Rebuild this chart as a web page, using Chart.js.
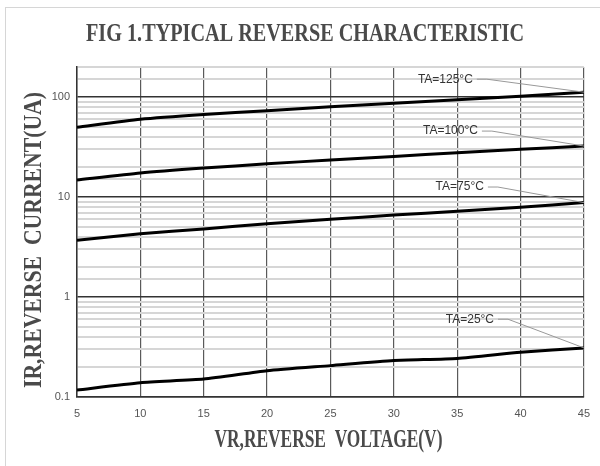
<!DOCTYPE html>
<html><head><meta charset="utf-8">
<script src="https://cdn.jsdelivr.net/npm/chart.js@4/dist/chart.umd.min.js"></script>
<style>
html,body{margin:0;padding:0;background:#fff;}
#wrap{position:relative;width:600px;height:466px;overflow:hidden;background:#fff;}
#frame{position:absolute;left:5px;top:7px;width:700px;height:600px;border-left:1px solid #d6d6d6;border-top:1px solid #d6d6d6;}
canvas{position:absolute;left:0;top:0;}
</style></head><body>
<div id="wrap"><div id="frame"></div><canvas id="c" width="600" height="466"></canvas></div>
<script>
const chartTitle = 'FIG 1.TYPICAL REVERSE CHARACTERISTIC';
const xTitle = 'VR,REVERSE  VOLTAGE(V)';
const yTitle = 'IR,REVERSE  CURRENT(UA)';
const voltages = [5, 10, 15, 20, 25, 30, 35, 40, 45];
const seriesNames = ['TA=125°C', 'TA=100°C', 'TA=75°C', 'TA=25°C'];
const ir125 = [50, 60, 67, 73, 80, 87, 94, 102, 112];
const ir100 = [14.8, 17.4, 19.5, 21.5, 23.5, 25.5, 27.7, 30, 32.4];
const ir75 = [3.7, 4.3, 4.8, 5.4, 6.0, 6.6, 7.2, 7.9, 8.8];
const ir25 = [0.1175, 0.139, 0.151, 0.183, 0.206, 0.232, 0.243, 0.28, 0.31];
const labelX = [31.9, 32.3, 33.3, 34.1];
const labelY = [151, 45.7, 12.6, 0.60];
const yTickLabels = [0.1, 1, 10, 100];
const xTicks = [5, 10, 15, 20, 25, 30, 35, 40, 45];

const allSeries = [ir125, ir100, ir75, ir25];
const datasets = allSeries.map((vals, i) => ({
  label: seriesNames[i],
  data: voltages.map((v, j) => ({x: v, y: vals[j]})),
  borderColor: '#000',
  borderWidth: 3,
  pointRadius: 0,
  tension: 0.2,
  fill: false
}));

function isDecade(v) {
  const l = Math.log10(v);
  return Math.abs(l - Math.round(l)) < 1e-6;
}

function drawCondensed(ctx, text, font, cx, cy, targetW, rot) {
  ctx.save();
  ctx.font = font;
  const w = ctx.measureText(text).width;
  ctx.translate(cx, cy);
  if (rot) ctx.rotate(rot);
  ctx.scale(targetW / w, 1);
  ctx.textAlign = 'center';
  ctx.textBaseline = 'middle';
  ctx.fillStyle = '#4a4a4a';
  ctx.fillText(text, 0, 0);
  ctx.restore();
}

const deco = {
  id: 'deco',
  afterDraw(chart) {
    const {ctx, chartArea, scales} = chart;
    const xs = scales.x, ys = scales.y;
    const cx = (chartArea.left + chartArea.right) / 2;
    const cy = (chartArea.top + chartArea.bottom) / 2;
    drawCondensed(ctx, chartTitle, 'bold 25px "Liberation Serif"', 305, 35, 438, 0);
    drawCondensed(ctx, xTitle, 'bold 25px "Liberation Serif"', cx - 2, 441, 228, 0);
    drawCondensed(ctx, yTitle, 'bold 25px "Liberation Serif"', 35, cy + 8, 296, -Math.PI / 2);
    ctx.save();
    ctx.font = '12px "Liberation Sans"';
    ctx.textBaseline = 'middle';
    ctx.textAlign = 'left';
    allSeries.forEach((vals, i) => {
      const lx = xs.getPixelForValue(labelX[i]);
      const ly = ys.getPixelForValue(labelY[i]);
      ctx.fillStyle = '#333';
      ctx.fillText(seriesNames[i], lx, ly);
      const w = ctx.measureText(seriesNames[i]).width;
      const ex = xs.getPixelForValue(voltages[voltages.length - 1]);
      const ey = ys.getPixelForValue(vals[vals.length - 1]);
      ctx.strokeStyle = '#999';
      ctx.lineWidth = 1;
      ctx.beginPath();
      ctx.moveTo(lx + w + 4, ly);
      ctx.lineTo(lx + w + 14, ly);
      ctx.lineTo(ex, ey);
      ctx.stroke();
    });
    ctx.restore();
  }
};

new Chart(document.getElementById('c'), {
  type: 'line',
  data: {datasets},
  options: {
    responsive: false,
    animation: false,
    layout: {padding: {top: 67, right: 15, left: 0, bottom: 0}},
    plugins: {legend: {display: false}, title: {display: false}, tooltip: {enabled: false}},
    scales: {
      x: {
        type: 'linear', min: 5, max: 45,
        afterBuildTicks(s) { s.ticks = xTicks.map(v => ({value: v})); },
        afterFit(s) { s.height = 69; },
        ticks: {color: '#555', font: {family: 'Liberation Sans', size: 11}, padding: 10, maxRotation: 0},
        grid: {color: '#5a5a5a', lineWidth: 1.2, drawTicks: false},
        border: {color: '#333', width: 1.5}
      },
      y: {
        type: 'logarithmic', min: 0.1, max: 200,
        afterFit(s) { s.width = 77; },
        ticks: {
          autoSkip: false,
          color: '#555', font: {family: 'Liberation Sans', size: 11}, padding: 7,
          callback: (v) => yTickLabels.includes(Number(v.toPrecision(6))) ? String(Number(v.toPrecision(6))) : ''
        },
        grid: {
          drawTicks: false,
          color: (c) => (c.tick && isDecade(c.tick.value)) ? '#333' : '#d6d6d6',
          lineWidth: (c) => (c.tick && isDecade(c.tick.value)) ? 1.5 : 2
        },
        border: {color: '#333', width: 1.5}
      }
    }
  },
  plugins: [deco]
});
</script>
</body></html>
